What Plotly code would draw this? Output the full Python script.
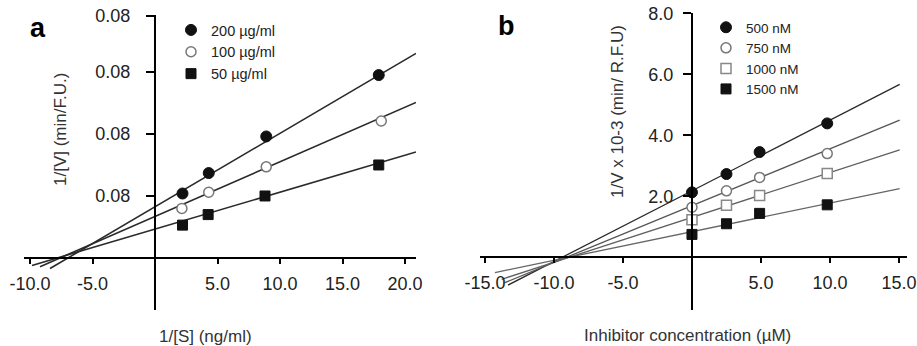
import plotly.graph_objects as go

# ---------------- Panel a data ----------------
a_names = ["200 µg/ml", "100 µg/ml", "50 µg/ml"]
a_x_200 = [2.2, 4.3, 8.9, 17.9]
a_y_200 = [1.04, 1.37, 1.96, 2.95]
a_x_100 = [2.15, 4.3, 8.9, 18.1]
a_y_100 = [0.80, 1.06, 1.47, 2.21]
a_x_50 = [2.2, 4.25, 8.8, 17.9]
a_y_50 = [0.53, 0.70, 1.00, 1.50]
# fitted lines (end points)
a_line_x_200 = [-8.4, 20.88]
a_line_y_200 = [-0.17, 3.30]
a_line_x_100 = [-9.2, 20.88]
a_line_y_100 = [-0.14, 2.51]
a_line_x_50 = [-9.84, 20.88]
a_line_y_50 = [-0.12, 1.71]
a_xticks = [-10, -5, 5, 10, 15, 20]
a_xtick_text = ["-10.0", "-5.0", "5.0", "10.0", "15.0", "20.0"]
a_yticks = [1, 2, 3, 3.9]
a_ytick_text = ["0.08", "0.08", "0.08", "0.08"]

# ---------------- Panel b data ----------------
b_names = ["500 nM", "750 nM", "1000 nM", "1500 nM"]
b_x = [0, 2.5, 4.9, 9.8]
b_y_500 = [2.13, 2.73, 3.45, 4.39]
b_y_750 = [1.64, 2.18, 2.62, 3.40]
b_y_1000 = [1.23, 1.71, 2.03, 2.75]
b_y_1500 = [0.75, 1.10, 1.44, 1.72]
b_line_x_500 = [-13.33, 15.05]
b_line_y_500 = [-0.91, 5.67]
b_line_x_750 = [-13.55, 15.05]
b_line_y_750 = [-0.83, 4.50]
b_line_x_1000 = [-13.79, 15.05]
b_line_y_1000 = [-0.72, 3.52]
b_line_x_1500 = [-14.28, 15.05]
b_line_y_1500 = [-0.50, 2.25]
b_xticks = [-15, -10, -5, 5, 10, 15]
b_xtick_text = ["-15.0", "-10.0", "-5.0", "5.0", "10.0", "15.0"]
b_yticks = [2, 4, 6, 8]
b_ytick_text = ["2.0", "4.0", "6.0", "8.0"]

FONT = "Arial, Liberation Sans, sans-serif"
W, H = 917, 346

fig = go.Figure()

# ---- panel a lines ----
for lx, ly, col in [(a_line_x_200, a_line_y_200, "#2a2a2a"),
                    (a_line_x_100, a_line_y_100, "#2a2a2a"),
                    (a_line_x_50, a_line_y_50, "#2a2a2a")]:
    fig.add_trace(go.Scatter(x=lx, y=ly, mode="lines", line=dict(color=col, width=1.6),
                             showlegend=False, hoverinfo="skip", xaxis="x", yaxis="y"))

# ---- panel a markers ----
fig.add_trace(go.Scatter(x=a_x_200, y=a_y_200, mode="markers", name=a_names[0],
                         marker=dict(symbol="circle", size=11, color="#111111",
                                     line=dict(color="#111111", width=1)),
                         xaxis="x", yaxis="y", legend="legend"))
fig.add_trace(go.Scatter(x=a_x_100, y=a_y_100, mode="markers", name=a_names[1],
                         marker=dict(symbol="circle", size=10, color="white",
                                     line=dict(color="#777777", width=1.5)),
                         xaxis="x", yaxis="y", legend="legend"))
fig.add_trace(go.Scatter(x=a_x_50, y=a_y_50, mode="markers", name=a_names[2],
                         marker=dict(symbol="square", size=10, color="#111111",
                                     line=dict(color="#111111", width=1)),
                         xaxis="x", yaxis="y", legend="legend"))

# ---- panel b lines ----
for lx, ly, col in [(b_line_x_500, b_line_y_500, "#2a2a2a"),
                    (b_line_x_750, b_line_y_750, "#555555"),
                    (b_line_x_1000, b_line_y_1000, "#5f5f5f"),
                    (b_line_x_1500, b_line_y_1500, "#666666")]:
    fig.add_trace(go.Scatter(x=lx, y=ly, mode="lines", line=dict(color=col, width=1.3),
                             showlegend=False, hoverinfo="skip", xaxis="x2", yaxis="y2"))

# ---- panel b markers ----
fig.add_trace(go.Scatter(x=b_x, y=b_y_500, mode="markers", name=b_names[0],
                         marker=dict(symbol="circle", size=11, color="#111111",
                                     line=dict(color="#111111", width=1)),
                         xaxis="x2", yaxis="y2", legend="legend2"))
fig.add_trace(go.Scatter(x=b_x, y=b_y_750, mode="markers", name=b_names[1],
                         marker=dict(symbol="circle", size=10, color="white",
                                     line=dict(color="#777777", width=1.5)),
                         xaxis="x2", yaxis="y2", legend="legend2"))
fig.add_trace(go.Scatter(x=b_x, y=b_y_1000, mode="markers", name=b_names[2],
                         marker=dict(symbol="square", size=10, color="white",
                                     line=dict(color="#888888", width=1.5)),
                         xaxis="x2", yaxis="y2", legend="legend2"))
fig.add_trace(go.Scatter(x=b_x, y=b_y_1500, mode="markers", name=b_names[3],
                         marker=dict(symbol="square", size=10, color="#111111",
                                     line=dict(color="#111111", width=1)),
                         xaxis="x2", yaxis="y2", legend="legend2"))


def px_x(p):
    return p / W


def px_y(p):
    return 1 - p / H


tickfont = dict(family=FONT, size=18, color="#222222")
common_x = dict(showline=True, linecolor="black", linewidth=2, ticks="outside",
                ticklen=5, tickwidth=1.5, tickcolor="black", showgrid=False,
                zeroline=False, tickfont=tickfont, anchor="free", ticklabelstandoff=4,
                automargin=False)
common_y = dict(showline=True, linecolor="black", linewidth=2, ticks="outside",
                ticklen=8, tickwidth=1.5, tickcolor="black", showgrid=False,
                zeroline=False, tickfont=tickfont, anchor="free", automargin=False)


def label(text, x, y, size, angle=0, bold=False, color="#333333"):
    return dict(text=f"<b>{text}</b>" if bold else text, x=px_x(x), y=px_y(y),
                xref="paper", yref="paper", xanchor="center", yanchor="middle",
                textangle=angle, showarrow=False,
                font=dict(family=FONT, size=size, color=color))


fig.update_layout(
    width=W, height=H,
    margin=dict(l=0, r=0, t=0, b=0, pad=0, autoexpand=False),
    paper_bgcolor="white", plot_bgcolor="rgba(0,0,0,0)",
    font=dict(family=FONT, color="#222222"),
    xaxis=dict(common_x, domain=[px_x(24), px_x(416)], range=[-10.48, 20.88],
               position=px_y(258), tickvals=a_xticks, ticktext=a_xtick_text),
    yaxis=dict(common_y, domain=[px_y(310), px_y(15)], range=[-0.839, 3.919],
               position=px_x(155), tickvals=a_yticks, ticktext=a_ytick_text,
               ticklabelstandoff=12),
    xaxis2=dict(common_x, domain=[px_x(480), px_x(907)], range=[-15.36, 15.58],
                position=px_y(257.3), tickvals=b_xticks, ticktext=b_xtick_text),
    yaxis2=dict(common_y, domain=[px_y(310), px_y(13.3)], range=[-1.728, 8.0],
                position=px_x(692), tickvals=b_yticks, ticktext=b_ytick_text,
                ticklabelstandoff=6),
    legend=dict(x=px_x(171), y=px_y(14), xanchor="left", yanchor="top",
                bgcolor="rgba(0,0,0,0)", font=dict(family=FONT, size=14.5, color="#222222"),
                itemwidth=30, tracegroupgap=0),
    legend2=dict(x=px_x(706), y=px_y(12), xanchor="left", yanchor="top",
                 bgcolor="rgba(0,0,0,0)", font=dict(family=FONT, size=13.5, color="#222222"),
                 itemwidth=30, tracegroupgap=0),
    annotations=[
        label("a", 38, 28, 27, bold=True, color="black"),
        label("b", 506, 26, 27, bold=True, color="black"),
        label("1/[V] (min/F.U.)", 60, 130, 17, angle=-90),
        label("1/V x 10-3 (min/ R.F.U)", 617, 112, 17, angle=-90),
        label("1/[S] (ng/ml)", 205, 336, 17),
        label("Inhibitor concentration (µM)", 687, 335, 17),
    ],
)

fig.write_html("out.html", post_script="document.body.style.margin='0';",
               config={"displayModeBar": False})
